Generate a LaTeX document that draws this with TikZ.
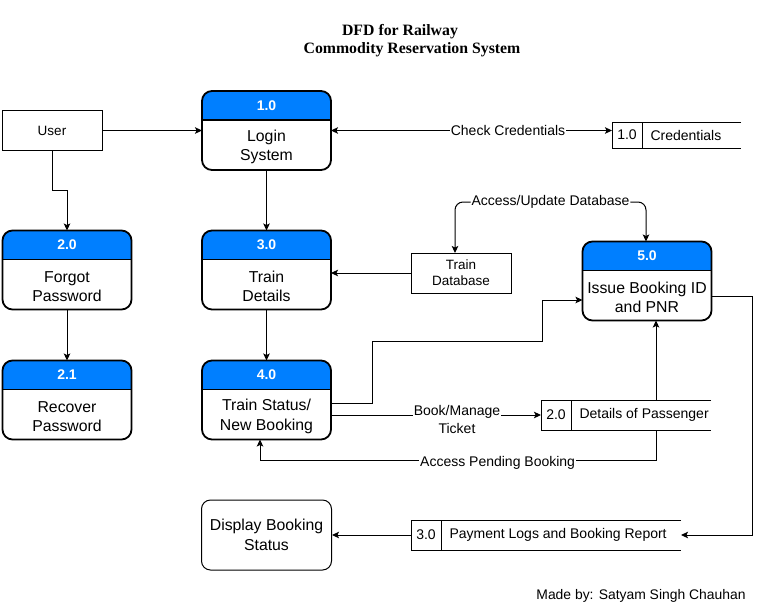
\documentclass[tikz,border=0pt]{standalone}
\usepackage{fontspec}
\setmainfont{Liberation Sans}
\newfontfamily\titlefont{Liberation Serif}
\usetikzlibrary{arrows.meta}
\definecolor{hdrblue}{RGB}{0,127,255}
\tikzset{
  base/.style={inner sep=0pt, outer sep=0pt},
  extbox/.style={draw, line width=1pt, base, font=\fontsize{13.5}{16}\selectfont, align=center},
  conn/.style={line width=1pt, -{Stealth[length=7pt,width=6.5pt,inset=1.5pt]}},
  biconn/.style={line width=1pt, {Stealth[length=7pt,width=6.5pt,inset=1.5pt]}-{Stealth[length=7pt,width=6.5pt,inset=1.5pt]}},
  lbl/.style={fill=white, inner sep=1pt, font=\fontsize{14}{18}\selectfont, align=center},
  procborder/.style={line width=1.8pt},
  hdrtext/.style={font=\bfseries\fontsize{14}{16}\selectfont, text=white},
  bodytext/.style={font=\fontsize{15.8}{19.5}\selectfont, align=center},
  storetext/.style={font=\fontsize{14}{16}\selectfont},
  titletext/.style={font=\titlefont\bfseries\fontsize{15.8}{18}\selectfont},
}
\newcommand\mkproc[5]{%
  \node[base, minimum width=129pt, minimum height=79pt] (#1) at (#2,#3) {};
  \begin{scope}
    \clip[rounded corners=10pt] (#1.south west) rectangle (#1.north east);
    \fill[hdrblue] (#1.north west) rectangle ([yshift=-29pt]#1.north east);
  \end{scope}
  \draw[procborder] ([yshift=-29pt]#1.north west) -- ([yshift=-29pt]#1.north east);
  \draw[procborder, rounded corners=10pt] (#1.south west) rectangle (#1.north east);
  \node[hdrtext] (#1h) at ([yshift=-14.5pt]#1.north) {#4};
  \node[bodytext] (#1t) at ([yshift=-56pt]#1.north) {#5};
}
% name, x1, y1, x2, y2, divider x, number, text
\newcommand\mkstore[8]{%
  \node[base, minimum width={(#4-#2)*1pt}, minimum height={(#5-#3)*1pt}] (#1) at ({(#2+#4)/2},{(#3+#5)/2}) {};
  \draw[line width=1pt] (#4,#3) -- (#2,#3) -- (#2,#5) -- (#4,#5);
  \draw[line width=1pt] (#6,#3) -- (#6,#5);
  \node[storetext] (#1n) at ({(#2+#6)/2},{(#3+#5)/2}) {#7};
  \node[storetext, anchor=west] (#1t) at ({#6+5},{(#3+#5)/2}) {#8};
}
\begin{document}
\begin{tikzpicture}[x=1pt, y=-1pt]
\useasboundingbox (0,0) rectangle (760,611);

% title
\node[titletext] (title1) at (400,32) {DFD for Railway};
\node[titletext] (title2) at (412,50) {Commodity Reservation System};

% external entities
\node[extbox, minimum width=100pt, minimum height=40pt] (user) at (52,130.5) {User};
\node[extbox, minimum width=100pt, minimum height=40pt] (tdb) at (461,273) {Train\\Database};

% processes
\mkproc{p1}{266.5}{130.5}{1.0}{Login\\System}
\mkproc{p20}{67}{270}{2.0}{Forgot\\Password}
\mkproc{p21}{67}{400}{2.1}{Recover\\Password}
\mkproc{p3}{266.5}{270}{3.0}{Train\\Details}
\mkproc{p4}{266.5}{400}{4.0}{Train Status/\\New Booking}
\mkproc{p5}{647}{281}{5.0}{Issue Booking ID\\and PNR}

% display
\node[draw, line width=1pt, rounded corners=9pt, minimum width=130pt, minimum height=70pt,
      font=\fontsize{15.8}{19.5}\selectfont, align=center] (disp) at (266.5,535) {Display Booking\\Status};

% data stores
\mkstore{cred}{612}{122}{741}{148}{642}{1.0}{Credentials}
\mkstore{dop}{541}{400}{711}{430}{571}{2.0}{Details of Passenger}
\mkstore{pl}{411}{520}{681}{550}{441}{3.0}{Payment Logs and Booking Report}

% helper coordinates
\coordinate (aua) at (455,202);
\coordinate (aub) at (646,202);
\coordinate (r2) at (372,341);
\coordinate (r4) at (542,300);
\coordinate (apb) at (656,460);
\coordinate (p4acc) at (260,460);
\coordinate (c751) at (752,296);

% connectors
\draw[conn] (user.east) -- (user.east -| p1.west);
\draw[conn] (user.south) -- ++(0,40) -| (p20.north);
\draw[conn] (p20) -- (p21);
\draw[conn] (p1) -- (p3);
\draw[conn] (p3) -- (p4);
\draw[conn] (tdb.west) -- (tdb.west -| p3.east);
\draw[biconn] (p1.east) -- node[lbl, pos=0.63] {Check Credentials} (p1.east -| cred.west);
\draw[biconn, rounded corners=8pt] (tdb.north -| aua) -- (aua) -- node[lbl] {Access/Update Database} (aub) -- (p5.north -| aub);
\draw[conn] ([yshift=-3pt]p4.east) -| (r2) -| (r4) -- (r4 -| p5.west);
\draw[conn] (p4.east |- dop.west) -- node[lbl, pos=0.6, yshift=-4pt] {Book/Manage\\Ticket} (dop.west);
\draw[conn] (dop.north -| apb) -- (p5.south -| apb);
\draw[conn] (dop.south -| apb) -- (apb) -- node[lbl, pos=0.4, yshift=-3pt] {Access Pending Booking} (apb -| p4acc) -- (p4.south -| p4acc);
\draw[conn] ([yshift=-15pt]p5.east) -- (c751) |- (pl.east);
\draw[conn] (pl.west) -- (pl.west -| disp.east);

% footer
\node[font=\fontsize{13.9}{16}\selectfont] (madeby) at (641,596) {Made by: Satyam Singh Chauhan};
\end{tikzpicture}
\end{document}
